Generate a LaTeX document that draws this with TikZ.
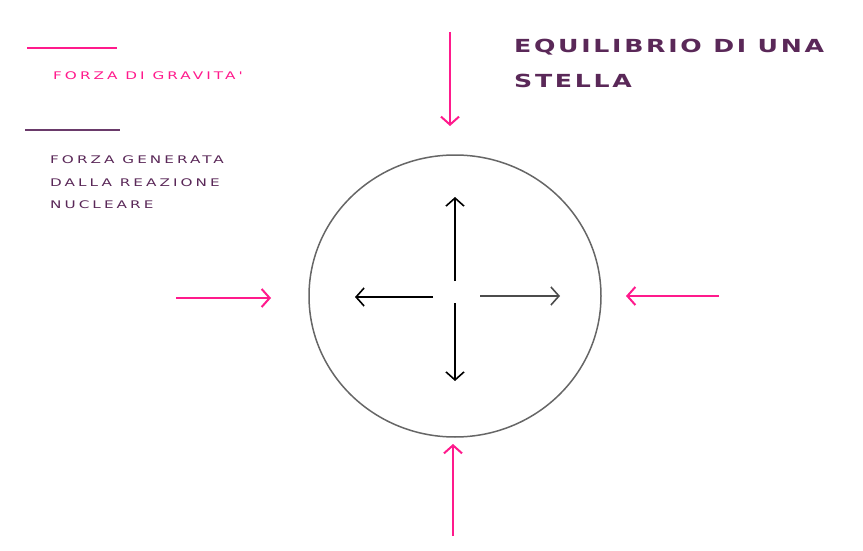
\documentclass[tikz,border=0pt]{standalone}
\usepackage{fontspec}
\setmainfont{DejaVu Sans}
\newfontfamily\legfont[FakeStretch=1.45,LetterSpace=29]{DejaVu Sans}
\newfontfamily\titfont[FakeStretch=1.4,LetterSpace=15]{DejaVu Sans}
\usetikzlibrary{arrows.meta,shapes.geometric}
\definecolor{gpink}{HTML}{FF1A8C}
\definecolor{npurple}{HTML}{6A3A6A}
\definecolor{tpurple}{HTML}{5A2858}
\tikzset{
  grav/.style={draw=gpink, line width=2.6pt, -{Straight Barb[length=8pt,width=18pt,line width=2pt]}},
  nuc/.style={draw=black, line width=2pt, -{Straight Barb[length=8pt,width=18pt,line width=1.6pt]}},
  legtext/.style={anchor=base west, inner sep=0pt, font=\legfont\fontsize{10.5}{12}\selectfont},
  titletext/.style={anchor=base west, inner sep=0pt, text=tpurple, font=\titfont\bfseries\fontsize{18}{20}\selectfont}
}
\begin{document}
\begin{tikzpicture}[x=1pt,y=-1pt]
\useasboundingbox (0,0) rectangle (863,551);
% star
\node[draw=black!60, line width=1.5pt, ellipse, minimum width=292pt, minimum height=282pt, inner sep=0pt] (star) at (455,296) {};
% inner arrows
\coordinate (uS) at (455,281); \coordinate (uE) at (455,197);
\coordinate (dS) at (455,303); \coordinate (dE) at (455,381);
\coordinate (lS) at (433,297); \coordinate (lE) at (355,297);
\coordinate (rS) at (480,296); \coordinate (rE) at (560,296);
\draw[nuc] (uS) -- (uE);
\draw[nuc] (dS) -- (dE);
\draw[nuc] (lS) -- (lE);
\draw[nuc, draw=black!70, line width=2.8pt] (rS) -- (rE);
% gravity arrows
\coordinate (tS) at (450,32); \coordinate (tE) at (450,126);
\coordinate (bS) at (453,536); \coordinate (bE) at (453,444);
\coordinate (gLS) at (176,298); \coordinate (gLE) at (271,298);
\coordinate (gRS) at (719,296); \coordinate (gRE) at (626,296);
\draw[grav] (tS) -- (tE);
\draw[grav] (bS) -- (bE);
\draw[grav] (gLS) -- (gLE);
\draw[grav] (gRS) -- (gRE);
% legend
\coordinate (l1a) at (27,48); \coordinate (l1b) at (117,48);
\draw[gpink, line width=2.8pt] (l1a) -- (l1b);
\coordinate (l2a) at (25,130); \coordinate (l2b) at (120,130);
\draw[npurple, line width=2.8pt] (l2a) -- (l2b);
\node[legtext, text=gpink] (lg1) at (53,80) {FORZA DI GRAVITA'};
\node[legtext, text=tpurple] (lg2) at (50,163.5) {FORZA GENERATA};
\node[legtext, text=tpurple] (lg3) at (50,186.5) {DALLA REAZIONE};
\node[legtext, text=tpurple] (lg4) at (50,208.5) {NUCLEARE};
% title
\node[titletext] (title1) at (514,52.5) {EQUILIBRIO DI UNA};
\node[titletext] (title2) at (514,87.5) {STELLA};
\end{tikzpicture}
\end{document}
